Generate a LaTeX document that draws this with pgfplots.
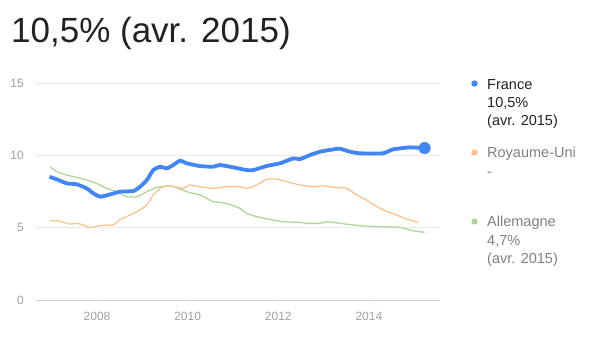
\documentclass[border=0pt]{standalone}
\usepackage{pgfplots}
\pgfplotsset{compat=1.18}
\usepackage{fontspec}
\setmainfont{Liberation Sans}
\definecolor{fr}{HTML}{4285F4}
\definecolor{uk}{HTML}{F9C38F}
\definecolor{de}{HTML}{AED69A}
\definecolor{grid}{HTML}{EBEBEB}
\definecolor{tickc}{HTML}{A0A0A0}
\definecolor{dark}{HTML}{222222}
\definecolor{legg}{HTML}{808080}
\begin{document}
\begin{tikzpicture}
\useasboundingbox (0pt,0pt) rectangle (616pt,346pt);
\begin{axis}[
  at={(35pt,46pt)}, anchor=origin,
  scale only axis, width=405pt, height=217pt,
  xmin=2006.63, xmax=2015.57, ymin=0, ymax=15,
  clip=false,
  axis line style={draw=none},
  ymajorgrids, grid style={draw=grid, line width=0.8pt},
  xtick={2008,2010,2012,2014}, ytick={0,5,10,15},
  xticklabel style={/pgf/number format/1000 sep={}, font=\fontsize{12}{14}\selectfont, text=tickc, inner sep=0pt, yshift=-7pt},
  yticklabel style={font=\fontsize{12}{14}\selectfont, text=tickc, inner sep=0pt, xshift=-6pt},
  /pgf/number format/assume math mode=true,
  tick align=outside,
  ytick style={draw=none},
  xtick style={draw=grid!80!black!20, line width=0.8pt},
  major tick length=5pt,
  xtick pos=bottom, ytick pos=left,
]
\draw[grid!90!black, line width=0.8pt] (axis cs:2006.63,0) -- (axis cs:2015.57,0);
\addplot[de, line width=1.3pt, smooth, tension=0.3] coordinates {
(2006.96,9.21) (2007.11,8.87) (2007.33,8.64) (2007.55,8.48) (2007.77,8.29)
(2007.99,8.06) (2008.21,7.72) (2008.43,7.49) (2008.65,7.14) (2008.88,7.14)
(2009.10,7.49) (2009.32,7.79) (2009.54,7.88) (2009.68,7.85) (2009.98,7.49)
(2010.27,7.26) (2010.42,7.03) (2010.56,6.80) (2010.86,6.68) (2011.15,6.34)
(2011.30,5.99) (2011.52,5.76) (2011.81,5.57) (2012.11,5.41) (2012.48,5.37)
(2012.62,5.30) (2012.92,5.30) (2013.07,5.41) (2013.36,5.30) (2013.80,5.14)
(2014.24,5.07) (2014.68,5.02) (2014.97,4.79) (2015.23,4.68)
};
\addplot[uk, line width=1.3pt, smooth, tension=0.3] coordinates {
(2006.96,5.48) (2007.15,5.46) (2007.40,5.25) (2007.55,5.30) (2007.70,5.18)
(2007.85,5.00) (2008.07,5.14) (2008.21,5.18) (2008.36,5.18) (2008.51,5.57)
(2008.65,5.76) (2008.88,6.10) (2009.10,6.57) (2009.24,7.26) (2009.39,7.72)
(2009.54,7.88) (2009.68,7.85) (2009.90,7.72) (2010.05,7.95) (2010.27,7.83)
(2010.56,7.72) (2010.86,7.83) (2011.15,7.83) (2011.30,7.72) (2011.52,7.95)
(2011.74,8.34) (2011.96,8.36) (2012.18,8.18) (2012.48,7.95) (2012.77,7.83)
(2012.99,7.90) (2013.21,7.79) (2013.51,7.72) (2013.73,7.26) (2013.95,6.91)
(2014.24,6.34) (2014.61,5.87) (2014.90,5.53) (2015.08,5.37)
};
\addplot[fr, line width=3.8pt, smooth, tension=0.3] coordinates {
(2006.95,8.52) (2007.15,8.29) (2007.33,8.06) (2007.55,8.00) (2007.77,7.72)
(2007.92,7.37) (2008.07,7.14) (2008.29,7.30) (2008.51,7.49) (2008.80,7.53)
(2008.95,7.83) (2009.10,8.29) (2009.24,8.98) (2009.39,9.21) (2009.54,9.10)
(2009.68,9.33) (2009.83,9.63) (2009.98,9.45) (2010.27,9.26) (2010.56,9.21)
(2010.71,9.33) (2011.01,9.17) (2011.30,8.98) (2011.45,8.98) (2011.74,9.26)
(2012.04,9.45) (2012.33,9.79) (2012.48,9.74) (2012.70,10.02) (2012.92,10.25)
(2013.21,10.41) (2013.36,10.46) (2013.58,10.25) (2013.80,10.14) (2014.31,10.14)
(2014.53,10.41) (2014.90,10.55) (2015.23,10.50)
};
\addplot[only marks, mark=*, mark size=5.8pt, color=fr] coordinates {(2015.23,10.50)};
\end{axis}
% title
\node[anchor=base west, inner sep=0pt, text=dark, font=\fontsize{35}{40}\selectfont] at (11pt,303pt) {10,5\% (avr. 2015)};
% legend
\fill[fr] (474.5pt,262.5pt) circle (3.2pt);
\fill[uk] (474.5pt,193.5pt) circle (3.2pt);
\fill[de] (474.5pt,124.5pt) circle (3.2pt);
\begin{scope}[every node/.style={anchor=base west, inner sep=0pt, font=\fontsize{14.5}{17}\selectfont}]
\node[text=dark] at (487pt,256pt) {France};
\node[text=dark] at (487pt,238pt) {10,5\%};
\node[text=dark] at (487pt,220pt) {(avr. 2015)};
\node[text=legg] at (487pt,188pt) {Royaume-Uni};
\node[text=legg] at (487pt,170pt) {-};
\node[text=legg] at (487pt,119.5pt) {Allemagne};
\node[text=legg] at (487pt,101pt) {4,7\%};
\node[text=legg] at (487pt,83pt) {(avr. 2015)};
\end{scope}
\end{tikzpicture}
\end{document}
